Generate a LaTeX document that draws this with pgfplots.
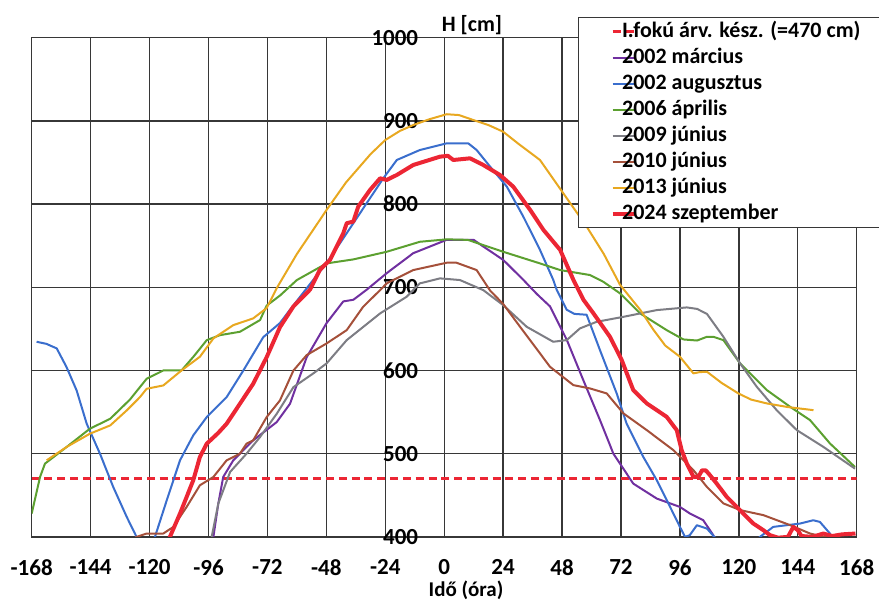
\documentclass[border=0pt]{standalone}
\usepackage{fontspec}
\setmainfont{Carlito}
\usepackage{pgfplots}
\pgfplotsset{compat=1.18}

\definecolor{gridc}{RGB}{55,55,55}
\definecolor{cmarc}{RGB}{112,48,160}
\definecolor{caug}{RGB}{58,110,205}
\definecolor{capr}{RGB}{92,160,48}
\definecolor{cjun09}{RGB}{125,125,132}
\definecolor{cjun10}{RGB}{165,80,58}
\definecolor{cjun13}{RGB}{232,168,32}
\definecolor{csep}{RGB}{236,38,52}

\begin{document}
\begin{tikzpicture}
\begin{axis}[
  scale only axis,
  width=412.5pt, height=249.6pt,
  xmin=-168, xmax=168, ymin=400, ymax=1000,
  xtick={-168,-144,...,168},
  ytick={400,500,...,1000},
  grid=major,
  major grid style={line width=0.7pt, color=gridc},
  axis line style={line width=0.7pt, color=gridc},
  major tick length=0pt,
  /pgf/number format/assume math mode=true,
  /pgf/number format/1000 sep={},
  ticklabel style={font=\bfseries\fontsize{11.5}{12}\selectfont, text=black},
  xticklabel style={yshift=-7.7pt},
  yticklabel style={xshift=196.75pt},
  every axis x label/.style={at={(axis description cs:0.5264,0)}, anchor=base, yshift=-30pt,
    font=\bfseries\fontsize{10.5}{12}\selectfont},
  every axis y label/.style={at={(axis description cs:0.4973,1)}, anchor=base west,
    yshift=3pt, xshift=-3.6pt, font=\bfseries\fontsize{11}{12}\selectfont},
  xlabel={Idő (óra)},
  ylabel={H [cm]},
  legend cell align=left,
  legend image code/.code={\draw[#1] (0pt,0pt) -- (11pt,0pt);},
  legend style={at={(axis description cs:0.6622,1.0415)}, anchor=north west,
    draw=gridc, line width=0.7pt, fill=white,
    inner xsep=16pt, inner ysep=0.5pt, column sep=-7.8pt,
    font=\bfseries\fontsize{11}{13}\selectfont,
    nodes={inner xsep=0.5pt, inner ysep=1.25pt, text height=8pt, text depth=2.5pt}},
  every axis plot/.append style={line join=round},
]

% threshold level (I. fokú árvízvédelmi készültség)
\addplot[csep, line width=1.4pt, dash pattern=on 4pt off 2.4pt] coordinates {(-168,470) (168,470)};
\addlegendentry{I.fokú árv. kész. (=470 cm)}

% 2002 March
\addplot[cmarc, line width=1pt] coordinates {
(-94.5,395) (-94,400) (-92,440) (-90,472) (-85.9,492) (-77.8,516) (-68.2,538) (-62.8,560)
(-56,616) (-47.9,657) (-41.1,683) (-37,685) (-31.6,697) (-23.4,717) (-12.6,741) (1,757)
(12,757) (15.9,749) (24,733) (32.2,709) (37.7,692) (43.1,677) (49.9,637) (56.7,588)
(63.5,540) (68.9,500) (77,464) (86.6,446) (96,436) (100.1,428) (105.5,420) (109.6,402) (110.5,395)};
\addlegendentry{2002 március}

% 2002 August
\addplot[caug, line width=1pt] coordinates {
(-166,634.5) (-162,632) (-157.8,626.5) (-153.8,604) (-149.7,576) (-145.6,536) (-140.2,500)
(-134.8,460) (-129.3,424) (-125.3,400) (-122,385) (-117.8,400) (-113,444) (-107.6,492)
(-102.2,522) (-96.7,544) (-88.6,568) (-81.8,600) (-73.7,640) (-66.9,657) (-62.8,673)
(-53.3,709) (-47.9,729) (-39.7,765) (-31.6,801) (-24.8,831) (-19.3,853) (-9.9,865) (1,873)
(9.8,873) (13.2,865) (18.7,845) (25.5,821) (32.2,785) (39,745) (44.4,709) (45.8,697)
(49.9,673) (53,668) (58,667) (63.5,624) (70.3,572) (74.3,536) (81.1,496) (86.6,468)
(92,436) (96,412) (98.1,400) (100,402) (102.9,414) (107,410) (110,400) (113,390) (125,390)
(128.6,400) (134,412) (144.9,416) (150.3,420) (153,418) (157.1,404) (159,395)};
\addlegendentry{2002 augusztus}

% 2006 April
\addplot[capr, line width=1pt] coordinates {
(-168,428) (-164.6,472) (-162.6,488) (-153.8,508) (-144.3,530) (-136,542) (-128,565)
(-121.2,590) (-114.4,600) (-107,600) (-102,617) (-96.7,636.5) (-91.3,642.5) (-83.2,646.5)
(-75,660.6) (-72.3,678) (-66.9,690) (-60,708.7) (-47.9,728.7) (-37,733.5) (-23.4,742.7)
(-9.9,754.7) (1,757.6) (9.6,757) (24,742.7) (39,728.7) (47.2,720.7) (59.4,714.7)
(64.8,706.6) (71.6,692.7) (79.8,668.6) (90.6,648.5) (97.4,637.3) (103,636) (107,640.5)
(109.6,640.5) (113.7,636.5) (120.5,608.5) (131.4,576.4) (140.9,556.3) (149,540.3)
(157.1,512.3) (167.3,484)};
\addlegendentry{2006 április}

% 2009 June
\addplot[cjun09, line width=1pt] coordinates {
(-95.5,395) (-94.7,400) (-92,440) (-87.2,478) (-80.5,500) (-75,520) (-68.2,548) (-61.4,580)
(-53.3,596.5) (-47.9,608.5) (-39.7,636.5) (-26.1,668.6) (-15.3,688.6) (-9.9,704.7)
(-1.7,710.7) (6.4,708.7) (15.9,696.6) (24,678.6) (33.6,652.5) (44.4,634.5) (49.9,636.5)
(55.3,650.6) (62.1,658.5) (73,664.5) (86.6,672.6) (98.8,675.8) (103,674) (107,668)
(113.7,640.5) (120.5,608.5) (127.3,580.4) (135.4,552.3) (143.6,528.3) (154.4,508.2) (167.3,482)};
\addlegendentry{2009 június}

% 2010 June
\addplot[cjun10, line width=1pt] coordinates {
(-128,395) (-125.3,400) (-121.2,404) (-114.4,404) (-110.3,412) (-104.9,436) (-99.5,462)
(-94,472) (-88.6,492) (-83.2,500) (-80.5,512) (-77.8,516) (-72.3,544) (-66.9,564)
(-61.4,600) (-56,618.5) (-47.9,632.5) (-39.7,648.5) (-33,676.6) (-26.1,696.6) (-23.4,704.7)
(-12.6,720.7) (1,729.5) (5,729.5) (13.2,720.7) (18.7,696) (24,680) (30.9,652.5) (43.1,604.4)
(52.6,582.4) (59.4,578.4) (66.2,572.4) (73,548.4) (82.5,528.3) (93.3,504.3) (101.5,480.2)
(107,460) (113.7,440.2) (120.5,432.2) (130,426.1) (140.9,414.1) (149,404) (155,400) (158,398)};
\addlegendentry{2010 június}

% 2013 June
\addplot[cjun13, line width=1pt] coordinates {
(-161.9,492) (-153.8,508) (-144.3,524) (-136,534) (-129.3,552) (-123.9,568) (-121.2,578)
(-114.4,582) (-107,600) (-99.5,616.5) (-94,638.5) (-85.9,654.5) (-77.8,662.6) (-72.3,675)
(-68,700) (-60,740) (-52,775) (-47.9,793) (-40,826) (-30,860) (-24,877) (-18,888)
(-12.6,895) (-6,902) (1,908) (6,907) (11.9,901) (18,895) (24,887) (30,873) (39,853)
(48.5,813) (58,773) (65,740) (71.6,703) (79.8,673) (85.2,649) (90,630) (96,616.5)
(101.5,596.5) (104,598) (107,598.5) (113,585) (119.8,572.4) (125,565) (131.4,560.4)
(140,556) (150.4,552.3)};
\addlegendentry{2013 június}

% 2024 September
\addplot[csep, line width=2pt] coordinates {
(-112,398) (-107.6,428) (-102.2,468) (-99.5,496) (-96.7,512) (-92,525) (-88.6,536)
(-83.2,560) (-77.8,584) (-72.3,616) (-66.9,652) (-61.4,677) (-57.4,689) (-54.7,697)
(-50.6,721) (-46.5,733) (-41.1,765) (-39.7,777) (-37,779) (-35,797) (-30.2,817)
(-26.1,831) (-23.4,829) (-19.3,835) (-12.6,847) (-1.7,857) (1.5,858) (3.7,853) (10.5,855)
(15.9,847) (22.7,835) (28.1,821) (35,793) (40.4,769) (47.2,745) (52.6,709) (56.7,685)
(60.7,669) (67.5,640.5) (72.3,612.5) (77,576.4) (82.5,560.4) (90.6,544.3) (94.7,528.3)
(96.7,504.3) (98.8,488.3) (101.5,472.2) (103.5,472) (105,480) (106.5,480) (108,475)
(111,464) (115.1,448) (120.5,432) (125.9,416) (130,408) (132.7,402) (136,399) (140,400)
(142.2,412) (144,408) (145.5,401) (150,400) (154.4,404) (158,401) (162,403) (167.5,404)};
\addlegendentry{2024 szeptember}

\end{axis}
\pgfresetboundingbox
\path[use as bounding box]
  ([shift={(-15.85pt,-33.05pt)}]current axis.south west)
  rectangle ([shift={(11.15pt,18.85pt)}]current axis.north east);
\end{tikzpicture}
\end{document}
